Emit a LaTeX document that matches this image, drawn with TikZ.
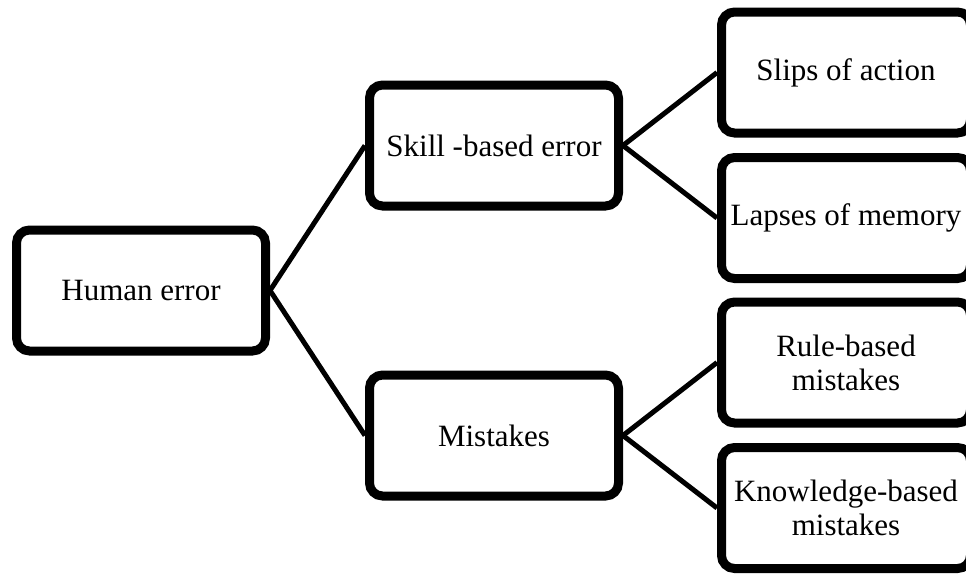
\documentclass[tikz,border=0pt]{standalone}
\usepackage{fontspec}
\setmainfont{Liberation Serif}
\usetikzlibrary{positioning,shadows}

\begin{document}
\begin{tikzpicture}[x=1pt,y=1pt,on grid,
  box/.style={draw,line width=9pt,rounded corners=13pt,fill=white,
    minimum width=249pt,minimum height=121pt,align=center,
    font=\fontsize{31}{34}\selectfont,
    drop shadow={shadow xshift=2pt,shadow yshift=-4pt,fill=gray!45}},
  link/.style={line width=5pt}]
  \useasboundingbox (0,0) rectangle (966,-574);
  \node[box] (human) at (141,-290.5) {Human error};
  \node[box] (skill) [above right = 145pt and 353pt of human] {Skill -based error};
  \node[box] (mist) [below right = 145pt and 353pt of human] {Mistakes};
  \node[box] (slips) [above right = 73pt and 352pt of skill] {Slips of action};
  \node[box] (lapses) [below right = 72.5pt and 352pt of skill] {Lapses of memory};
  \node[box] (rule) [above right = 73pt and 352pt of mist] {Rule-based\\mistakes};
  \node[box] (know) [below right = 72.5pt and 352pt of mist] {Knowledge-based\\mistakes};
  \path[link]
  (human.east)
  edge (skill.west)
  edge (mist.west)
  (skill.east)
  edge (slips.west)
  edge (lapses.west)
  (mist.east)
  edge (rule.west)
  edge (know.west)
  ;
\end{tikzpicture}
\end{document}
